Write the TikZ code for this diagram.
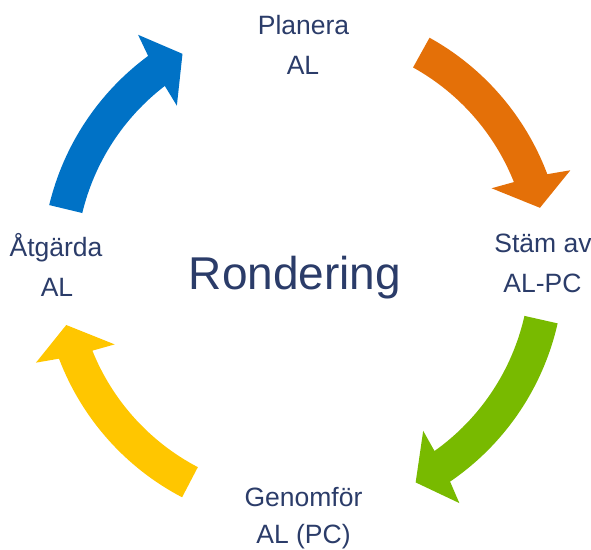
\documentclass[tikz,border=0pt]{standalone}
\usepackage{fontspec}
\setmainfont{Liberation Sans}
\definecolor{txt}{RGB}{43,60,105}
\definecolor{cblue}{RGB}{0,114,198}
\definecolor{corange}{RGB}{228,112,8}
\definecolor{cgreen}{RGB}{120,186,0}
\definecolor{cyellow}{RGB}{255,198,0}
\newcommand{\cycarrow}[3]{%
  \pgfmathsetmacro{\cyBa}{#3+7.3-0.5}%
  \pgfmathsetmacro{\cyBb}{#3+7.3-1.4}%
  \pgfmathsetmacro{\cyBc}{#3+7.3+1.3}%
  \pgfmathsetmacro{\cyBd}{#3+7.3+0.6}%
  \fill[#1] (#2:261pt) arc[start angle=#2, end angle=\cyBa, radius=261pt]
    -- (\cyBb:284pt) -- (#3:244pt) -- (\cyBc:204pt) -- (\cyBd:227pt)
    arc[start angle=\cyBd, end angle=#2, radius=227pt] -- cycle;}
\tikzset{
  lbl/.style={font=\fontsize{26.5}{30}\selectfont, text=txt, anchor=base, inner sep=0pt},
  title/.style={font=\fontsize{46}{50}\selectfont, text=txt, anchor=base, inner sep=0pt}
}
\begin{document}
\begin{tikzpicture}[x=1pt,y=1pt]
\useasboundingbox (0,0) rectangle (591,549);
\coordinate (c) at (303,283);
\begin{scope}[shift={(c)}]
  \cycarrow{cblue}{166.5}{119.6}
  \cycarrow{corange}{61}{13.8}
  \cycarrow{cgreen}{-12.7}{-62.5}
  \cycarrow{cyellow}{-117.6}{-166}
\end{scope}
\node[lbl] (p1) at (303.5,514) {Planera};
\node[lbl] (p2) at (303,474) {AL};
\node[lbl] (s1) at (543,296) {Stäm av};
\node[lbl] (s2) at (542.5,256) {AL-PC};
\node[lbl] (g1) at (303.5,43) {Genomför};
\node[lbl] (g2) at (303.5,6) {AL (PC)};
\node[lbl] (a1) at (56,292) {Åtgärda};
\node[lbl] (a2) at (57,252) {AL};
\node[title] (r) at (295,259) {Rondering};
\end{tikzpicture}
\end{document}
